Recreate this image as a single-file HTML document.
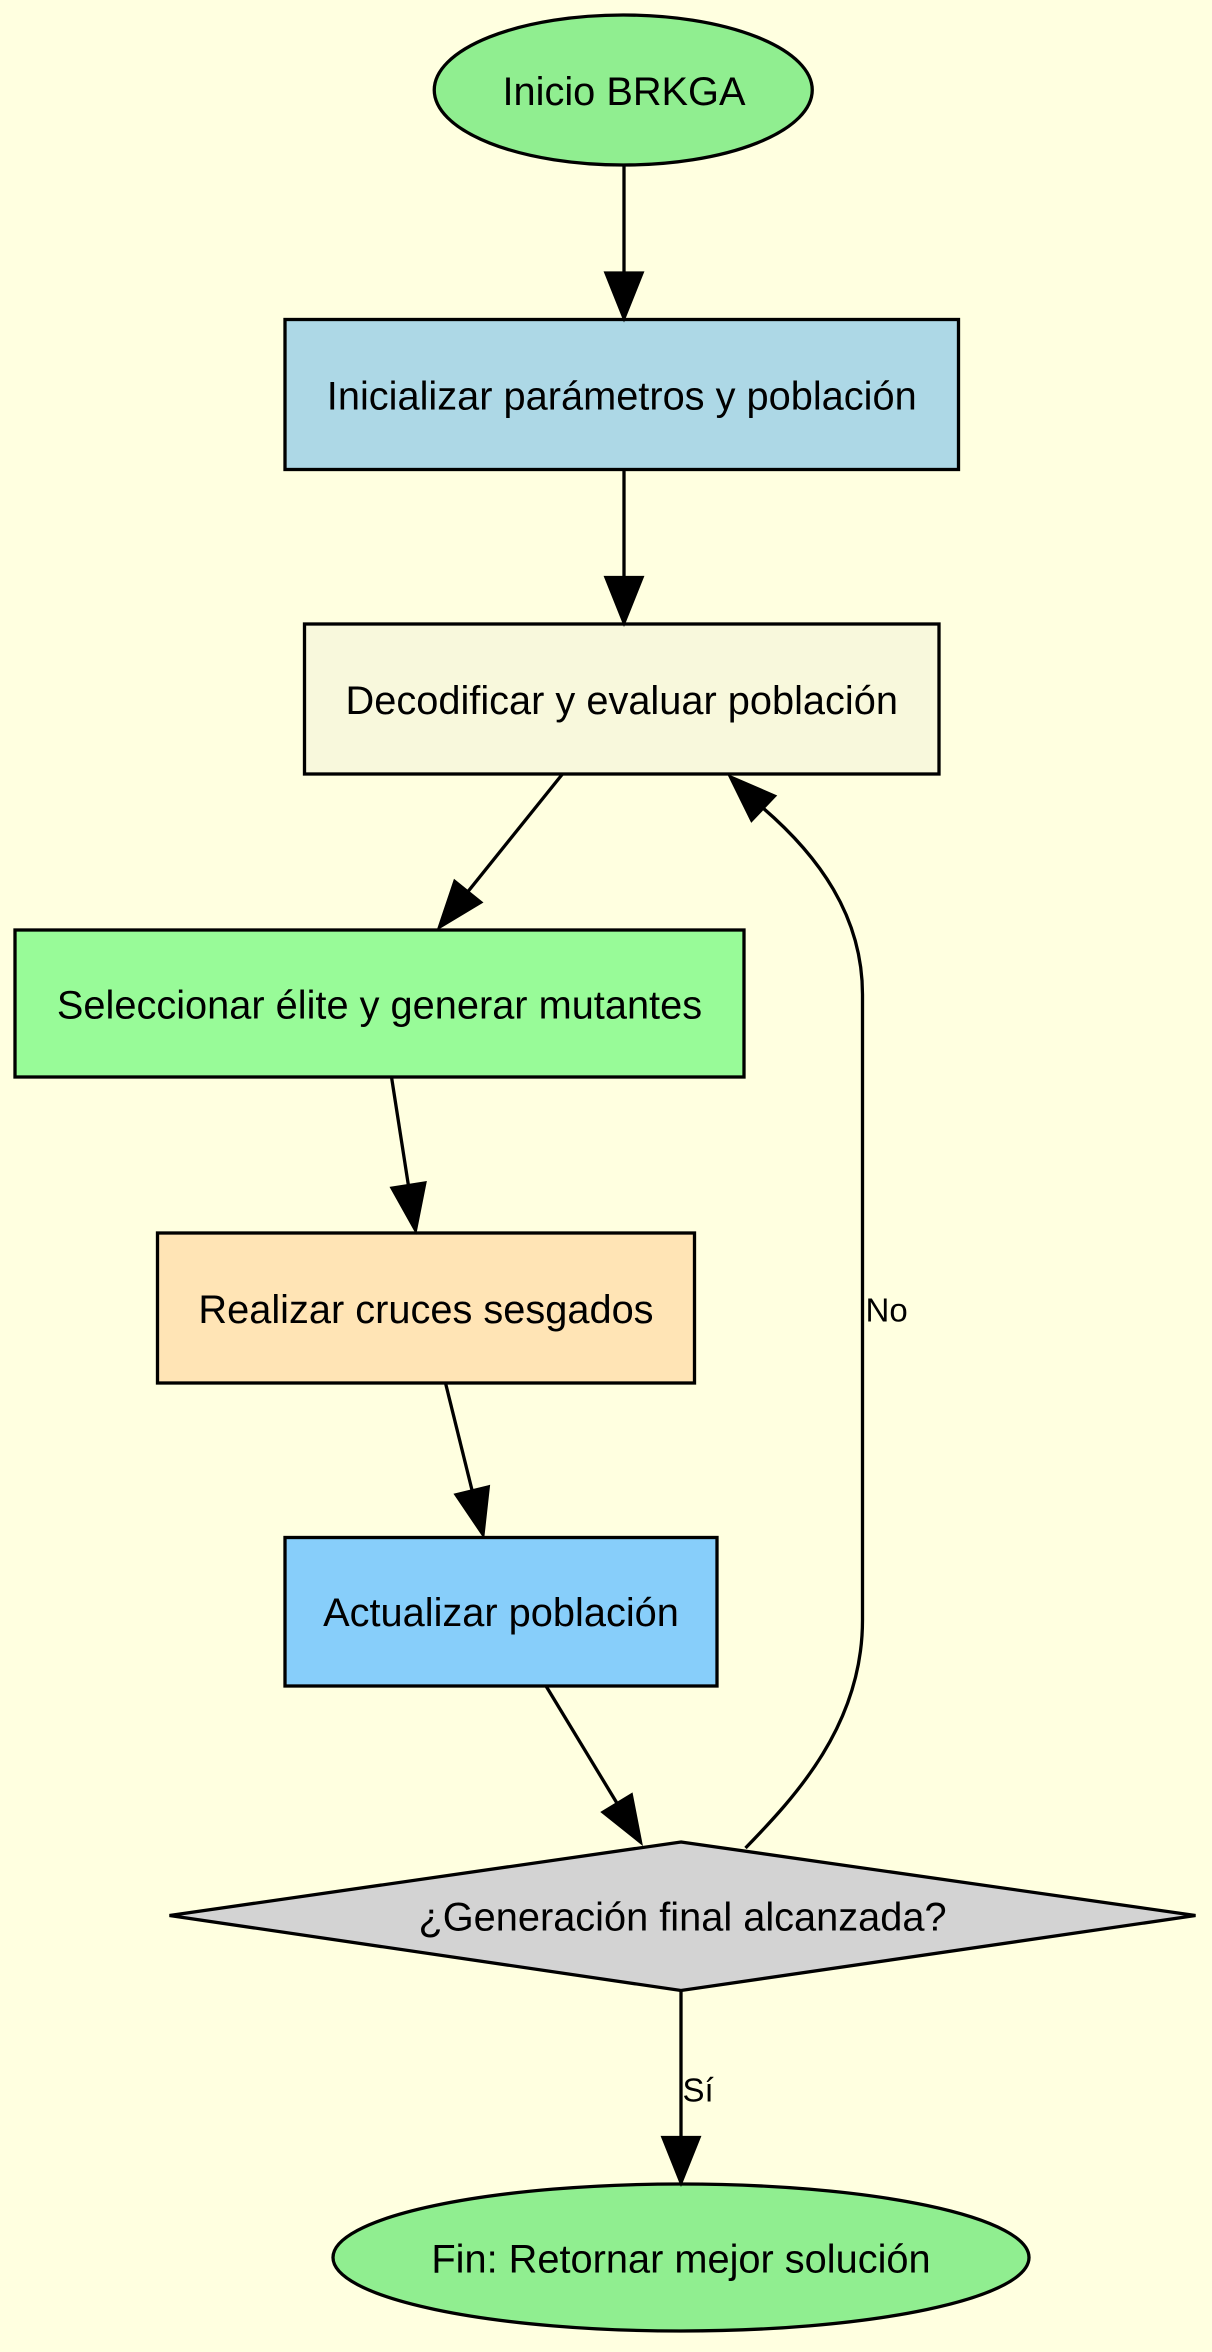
<!DOCTYPE html>
<html><head><meta charset="utf-8"><style>
html,body{margin:0;padding:0;background:#ffffe0;}
svg{display:block;}
text{font-family:"Liberation Sans",Arial,sans-serif;fill:#000;}
</style></head><body>
<svg width="1212" height="2352" viewBox="0 0 808 1568" xmlns="http://www.w3.org/2000/svg">
<rect x="0" y="0" width="808" height="1568" fill="#ffffe0"/>
<g stroke="#000" stroke-width="2.2">
<ellipse cx="415.5" cy="60" rx="126" ry="50" fill="#90ee90"/>
<rect x="190" y="213" width="449" height="100" fill="#add8e6"/>
<rect x="203" y="416" width="423" height="100" fill="#f8f8dc"/>
<rect x="10" y="620" width="486" height="98" fill="#98fb98"/>
<rect x="105" y="822" width="358" height="100" fill="#ffe4b5"/>
<rect x="190" y="1025" width="288" height="99" fill="#87cefa"/>
<polygon points="454,1228 797,1277 454,1327 113,1277" fill="#d3d3d3"/>
<ellipse cx="454" cy="1505" rx="232" ry="49" fill="#90ee90"/>
<g fill="none">
<line x1="416" y1="110" x2="416" y2="182"/>
<line x1="416" y1="313" x2="416" y2="385"/>
<line x1="375" y1="516" x2="311.8" y2="594.6"/>
<line x1="261" y1="718" x2="272.3" y2="790.4"/>
<line x1="297" y1="922" x2="314.8" y2="993.9"/>
<line x1="364" y1="1124" x2="411.5" y2="1202.4"/>
<line x1="454" y1="1327" x2="454" y2="1425"/>
<path d="M497,1232 C530,1198 575,1150 575,1080 L575,663 C575,610 545,570 508.7,538.7"/>
</g>
<g fill="#000">
<polygon points="404,182 428,182 416,212"/>
<polygon points="404,385 428,385 416,415"/>
<polygon points="320.4,601.5 303.2,587.7 293,618"/>
<polygon points="283.2,788.7 261.4,792.1 277,820"/>
<polygon points="325.5,991.3 304.1,996.5 322,1023"/>
<polygon points="420.9,1196.7 402.1,1208.1 427,1228"/>
<polygon points="442,1425 466,1425 454,1455"/>
<polygon points="516.3,530.7 501.1,546.7 487,518"/>
</g>
</g>
<g font-size="26.5" text-anchor="middle">
<text x="416" y="70">Inicio BRKGA</text>
<text x="414.5" y="273">Inicializar parámetros y población</text>
<text x="414.5" y="476">Decodificar y evaluar población</text>
<text x="253" y="679">Seleccionar élite y generar mutantes</text>
<text x="284" y="882">Realizar cruces sesgados</text>
<text x="334" y="1084">Actualizar población</text>
<text x="455" y="1287">¿Generación final alcanzada?</text>
<text x="454" y="1515">Fin: Retornar mejor solución</text>
</g>
<g font-size="22">
<text x="577" y="881">No</text>
<text x="455" y="1401">Sí</text>
</g>
</svg>
</body></html>
